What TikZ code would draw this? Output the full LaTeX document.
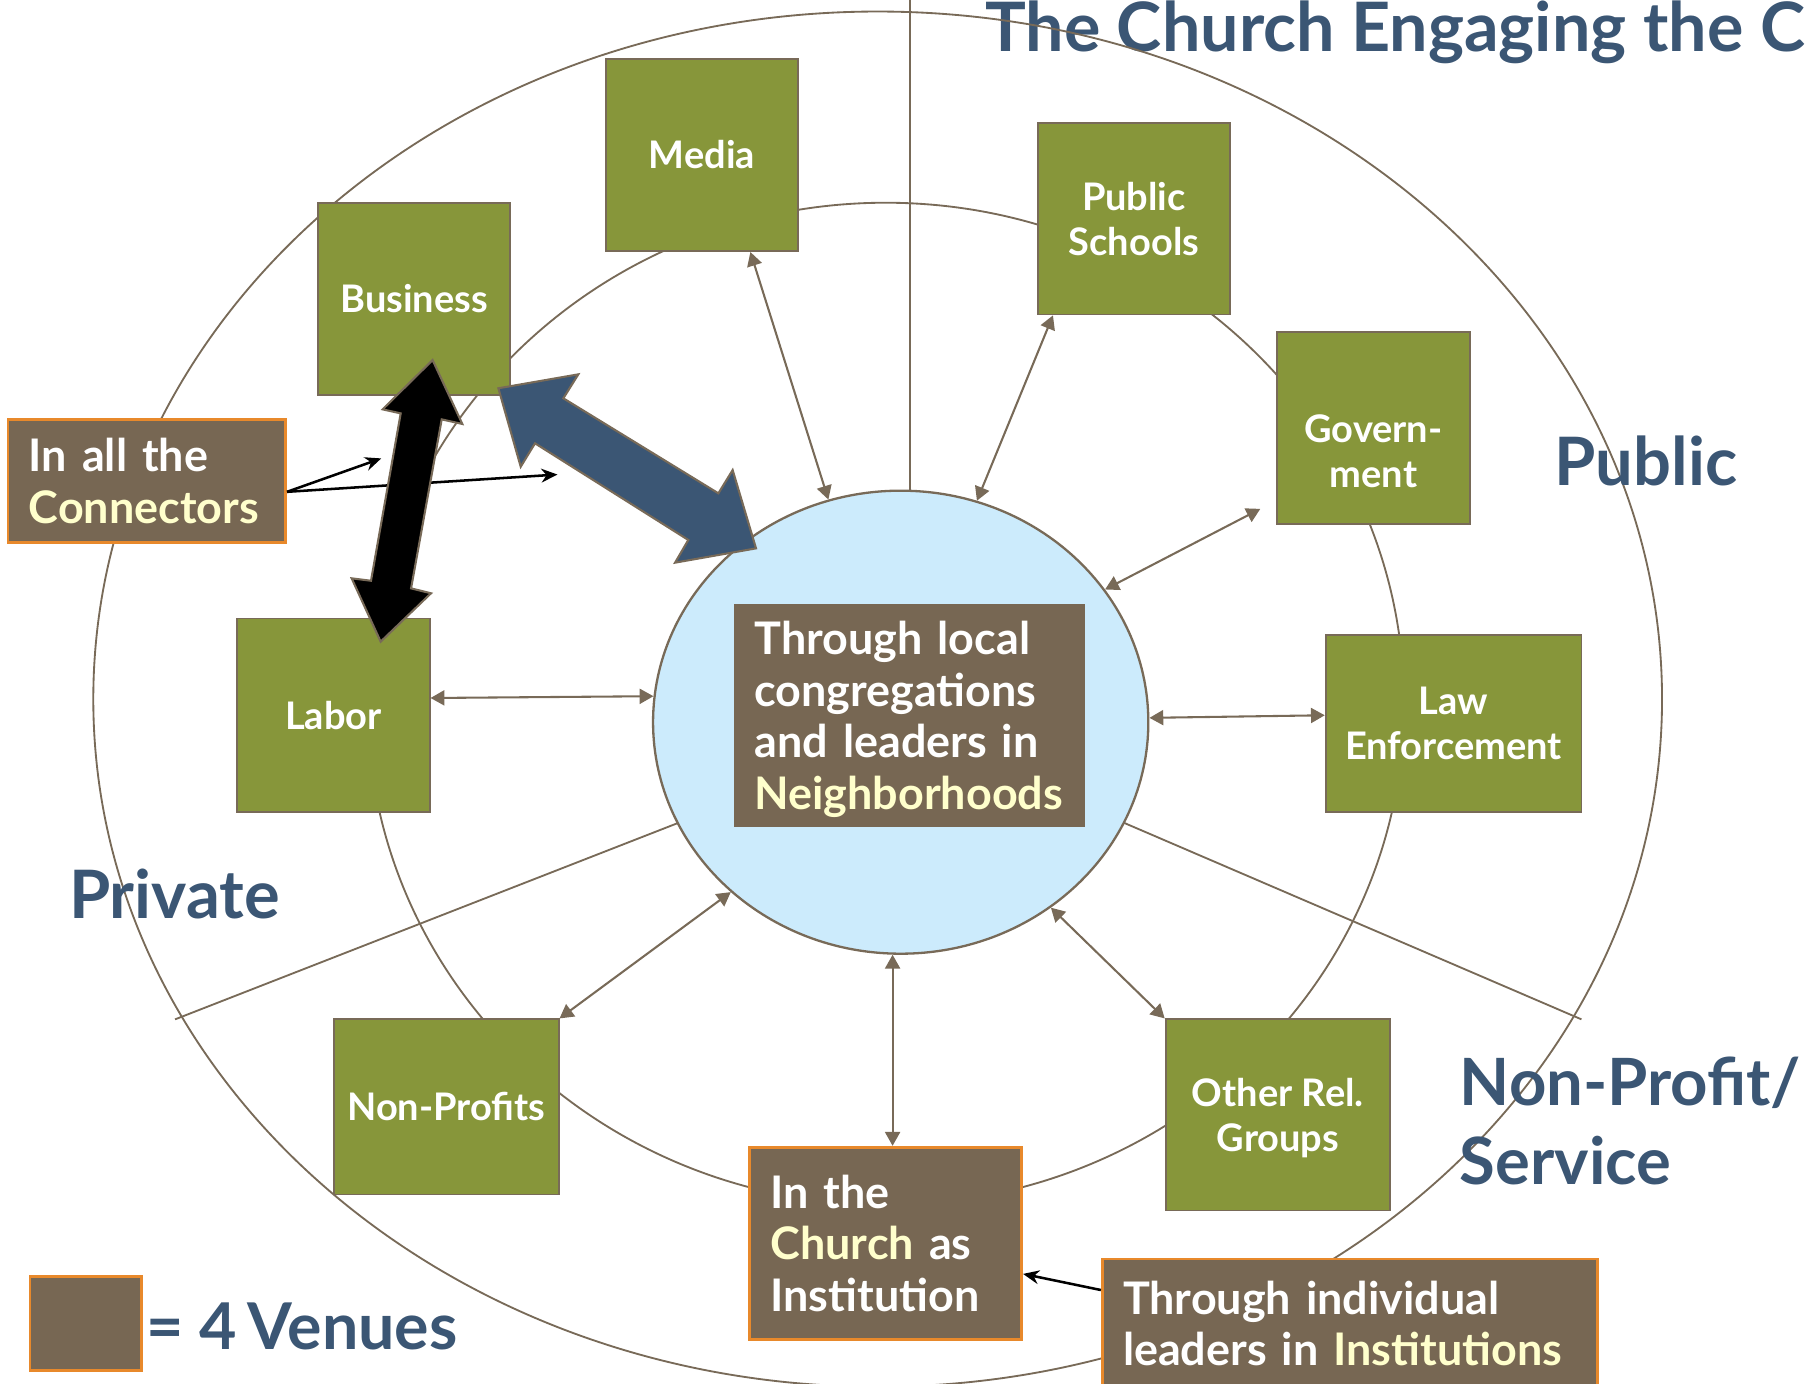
\documentclass[tikz,border=0pt]{standalone}
\usepackage{fontspec}
\setmainfont{Lato}
\usetikzlibrary{arrows.meta,shapes.geometric}
\definecolor{olivebox}{HTML}{87963A}
\definecolor{venue}{HTML}{776753}
\definecolor{vorange}{HTML}{E8892B}
\definecolor{lblue}{HTML}{CCEBFC}
\definecolor{dblue}{HTML}{3B5674}
\definecolor{lyel}{HTML}{FFFFCC}
\definecolor{lineb}{HTML}{786A58}
\newcommand\gboxfont{\bfseries\fontsize{16.5}{19.5}\selectfont}
\newcommand\venuefont{\bfseries\fontsize{19.5}{22.3}\selectfont}
\newcommand\regionfont{\bfseries\fontsize{29}{35}\selectfont}
\newcommand\hl[1]{\textcolor{lyel}{#1}}
\tikzset{
  gbox/.style={draw=lineb, line width=0.8pt, fill=olivebox, text=white, font=\gboxfont, align=center, inner sep=0pt},
  vbox/.style={draw=vorange, line width=1.2pt, fill=venue, text=white, font=\venuefont, align=left, inner xsep=9pt, inner ysep=0pt},
  ring/.style={draw=lineb, line width=0.8pt},
  link/.style={draw=lineb, line width=0.9pt, {Triangle[length=6pt,width=6.5pt]}-{Triangle[length=6pt,width=6.5pt]}},
  pointer/.style={draw=black, line width=1.1pt, -{Stealth[length=7pt,width=6pt]}},
  region/.style={text=dblue, font=\regionfont, inner sep=0pt},
}
\begin{document}
\begin{tikzpicture}[x=0.5pt,y=-0.5pt]
\useasboundingbox (0,0) rectangle (1568,1201);
\begin{scope}
\clip (0,0) rectangle (1568,1201);
% title (under the ring line, as in the reference)
\node[region, anchor=base west] (title) at (855,45) {\fontsize{29.6}{34}\selectfont The Church Engaging the C};
% rings
\draw[ring] (762,607) ellipse [x radius=681, y radius=597];
\draw[ring] (769,611) ellipse [x radius=450, y radius=435];
% dividers
\coordinate (vtop) at (790,0);
\coordinate (vbot) at (790,432);
\coordinate (dl1) at (152,885);
\coordinate (dl2) at (590,714);
\coordinate (dr1) at (1373,885);
\coordinate (dr2) at (975,714);
\draw[ring] (vtop) -- (vbot);
\draw[ring] (dl1) -- (dl2);
\draw[ring] (dr1) -- (dr2);
% central circle
\node[ellipse, draw=lineb, line width=1pt, fill=lblue, minimum width=215pt, minimum height=201pt, inner sep=0pt] (circ) at (782,627) {};
% green boxes
\node[gbox, minimum width=83.5pt, minimum height=83.5pt] (media) at (609.5,134.5) {Media};
\node[gbox, minimum width=83.5pt, minimum height=83.5pt] (business) at (359.5,259.5) {Business};
\node[gbox, minimum width=83.5pt, minimum height=83pt] (schools) at (984.5,190) {Public\\Schools};
\node[gbox, minimum width=83.5pt, minimum height=83.5pt] (gov) at (1192.5,371.5) {\rule{0pt}{32pt}Govern-\\ment};
\node[gbox, minimum width=111pt, minimum height=77pt] (law) at (1262,628) {Law\\Enforcement};
\node[gbox, minimum width=83.5pt, minimum height=84pt] (labor) at (289.5,621) {Labor};
\node[gbox, minimum width=97.5pt, minimum height=76pt] (nonprof) at (387.5,961) {Non-Profits};
\node[gbox, minimum width=97.5pt, minimum height=83pt] (otherrel) at (1109.5,968) {\rule{0pt}{15pt}Other Rel.\\Groups};
% venue boxes
\node[vbox, draw=none, text width=134.5pt, minimum height=97pt] (neigh) at (789.5,621) {\rule{0pt}{18pt}Through local\\congregations\\and leaders in\\\hl{Neighborhoods}};
\node[vbox, text width=102.5pt, minimum height=53.5pt] (conn) at (127.5,417.5) {In all the\\\hl{Connectors}};
\node[vbox, text width=100pt, minimum height=83.5pt] (church) at (769,1079.5) {In the\\\hl{Church} as\\Institution};
\node[vbox, text width=197pt, minimum height=56pt] (inst) at (1172,1149) {Through individual\\leaders in \hl{Institutions}};
\node[vbox, minimum width=48.5pt, minimum height=41pt, inner sep=0pt] (legend) at (74.5,1149) {};
% small links
\draw[link] ([xshift=21pt]media.south) -- (circ.108);
\draw[link] ([xshift=7pt]schools.south west) -- (circ.71.7);
\draw[link] ([xshift=-7pt,yshift=7pt]gov.south west) -- (circ.33.6);
\draw[link] (circ.1.6) -- ([yshift=3.5pt]law.west);
\draw[link] ([yshift=7.5pt]labor.east) -- (circ.174.4);
\draw[link] (nonprof.north east) -- (circ.225.2);
\draw[link] (circ.268.3) -- (circ.268.3 |- church.north);
\draw[link] (otherrel.north west) -- (circ.309.7);
% pointers
\coordinate (cp1) at (331,398);
\coordinate (cp2) at (484,412);
\draw[pointer] ([yshift=-4.75pt]conn.east) -- (cp1);
\draw[pointer] ([yshift=-4.75pt]conn.east) -- (cp2);
\draw[pointer] ([yshift=14.5pt]inst.west) -- ([yshift=-13.25pt]church.east);
% big double arrows
\draw[draw=lineb, line width=0.9pt, fill=dblue, line join=miter]
  (432.7,337.1) -- (502.1,325.0) -- (489.1,345.8) -- (623.7,428.3) -- (636.1,408.1)
  -- (656.4,476.1) -- (586.1,488.5) -- (597.6,468.8) -- (464.5,384.9) -- (452.1,405.2) -- cycle;
\draw[draw=lineb, line width=0.9pt, fill=black, line join=miter]
  (375.6,312.6) -- (401.4,368.1) -- (383.5,364.1) -- (356.9,510.8) -- (374.2,515.1)
  -- (330.5,557.1) -- (305.3,502.1) -- (322.1,504.2) -- (347.9,358.9) -- (332.2,355.4) -- cycle;
% region labels
\node[region] (public) at (1429,400) {Public};
\node[region] (private) at (151.5,776) {Private};
\node[region, anchor=base west] (np1) at (1267,960) {\fontsize{28.3}{34}\selectfont Non-Profit/};
\node[region, anchor=base west] (np2) at (1267,1028) {\fontsize{28.3}{34}\selectfont Service};
\node[region, anchor=west] (venues) at (127,1152) {\fontsize{28}{34}\selectfont = 4\,Venues};
\end{scope}
\end{tikzpicture}
\end{document}
